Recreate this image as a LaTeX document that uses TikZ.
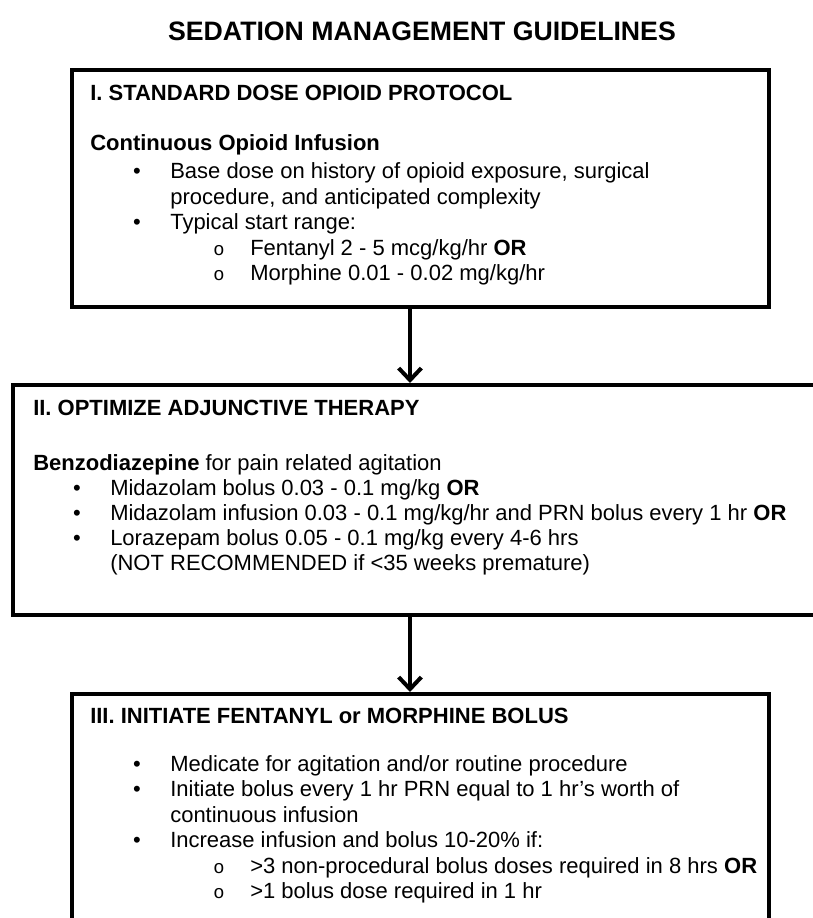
\documentclass[tikz,border=0pt]{standalone}
\usepackage{fontspec}
\setmainfont{Liberation Sans}
\newfontfamily\ringfont{Liberation Mono}
\usetikzlibrary{arrows.meta}
\usetikzlibrary{fit}

\begin{document}
\begin{tikzpicture}[x=0.75pt,y=-0.75pt,
	guidebox/.style={draw, line width=3pt, inner sep=0pt},
	headtxt/.style={anchor=base west, inner sep=0pt, font=\bfseries\fontsize{16.5}{19}\selectfont},
	bodytxt/.style={anchor=base west, inner sep=0pt, font=\fontsize{16.5}{19}\selectfont},
	dotmark/.style={anchor=base, inner sep=0pt, font=\fontsize{16.5}{19}\selectfont},
	ringmark/.style={anchor=base, inner sep=0pt, font=\ringfont\fontsize{14}{19}\selectfont},
	flowarrow/.style={line width=3pt, -{Straight Barb[length=9pt, width=17pt]}}]

	\useasboundingbox (0,0) rectangle (813,918);
	\clip (0,0) rectangle (813,918);

	%title
	\node[anchor=base, inner sep=0pt, font=\bfseries\fontsize{20}{24}\selectfont] (title) at (422,40) {SEDATION MANAGEMENT GUIDELINES};

	%boxes
	\node[guidebox, fit={(72,70) (769,307)}] (boxI) {};
	\node[guidebox, fit={(13,385) (840,615)}] (boxII) {};
	\node[guidebox, fit={(72,694) (769,960)}] (boxIII) {};

	%arrows
	\draw[flowarrow] (410,0 |- boxI.south) -- (410,0 |- boxII.north);
	\draw[flowarrow] (410,0 |- boxII.south) -- (410,0 |- boxIII.north);

	%box I text
	\node[headtxt] (headI) at (90,100) {I. STANDARD DOSE OPIOID PROTOCOL};
	\node[headtxt] (infusion) at (90,150) {Continuous Opioid Infusion};
	\node[dotmark] (dotIa) at (137,178) {•};
	\node[bodytxt] (basedose) at (170,178) {Base dose on history of opioid exposure, surgical};
	\node[bodytxt] (basedoseb) at (170,204) {procedure, and anticipated complexity};
	\node[dotmark] (dotIb) at (137,229) {•};
	\node[bodytxt] (startrange) at (170,229) {Typical start range:};
	\node[ringmark] (ringIa) at (219,255) {o};
	\node[bodytxt] (fentanyl) at (250,255) {Fentanyl 2 - 5 mcg/kg/hr \textbf{OR}};
	\node[ringmark] (ringIb) at (219,280) {o};
	\node[bodytxt] (morphine) at (250,280) {Morphine 0.01 - 0.02 mg/kg/hr};

	%box II text
	\node[headtxt] (headII) at (33,415) {II. OPTIMIZE ADJUNCTIVE THERAPY};
	\node[bodytxt] (benzo) at (33,470) {\textbf{Benzodiazepine} for pain related agitation};
	\node[dotmark] (dotIIa) at (77,495) {•};
	\node[bodytxt] (midbolus) at (110,495) {Midazolam bolus 0.03 - 0.1 mg/kg \textbf{OR}};
	\node[dotmark] (dotIIb) at (77,520) {•};
	\node[bodytxt] (midinf) at (110,520) {Midazolam infusion 0.03 - 0.1 mg/kg/hr and PRN bolus every 1 hr \textbf{OR}};
	\node[dotmark] (dotIIc) at (77,545) {•};
	\node[bodytxt] (loraz) at (110,545) {Lorazepam bolus 0.05 - 0.1 mg/kg every 4-6 hrs};
	\node[bodytxt] (lorazb) at (110,570) {(NOT RECOMMENDED if <35 weeks premature)};

	%box III text
	\node[headtxt] (headIII) at (90,723) {III. INITIATE FENTANYL or MORPHINE BOLUS};
	\node[dotmark] (dotIIIa) at (137,771) {•};
	\node[bodytxt] (medicate) at (170,771) {Medicate for agitation and/or routine procedure};
	\node[dotmark] (dotIIIb) at (137,796) {•};
	\node[bodytxt] (initiate) at (170,796) {Initiate bolus every 1 hr PRN equal to 1 hr’s worth of};
	\node[bodytxt] (initiateb) at (170,822) {continuous infusion};
	\node[dotmark] (dotIIIc) at (137,847) {•};
	\node[bodytxt] (increase) at (170,847) {Increase infusion and bolus 10-20\% if:};
	\node[ringmark] (ringIIIa) at (219,873) {o};
	\node[bodytxt] (nonproc) at (250,873) {>3 non-procedural bolus doses required in 8 hrs \textbf{OR}};
	\node[ringmark] (ringIIIb) at (219,898) {o};
	\node[bodytxt] (onebolus) at (250,898) {>1 bolus dose required in 1 hr};

\end{tikzpicture}
\end{document}
